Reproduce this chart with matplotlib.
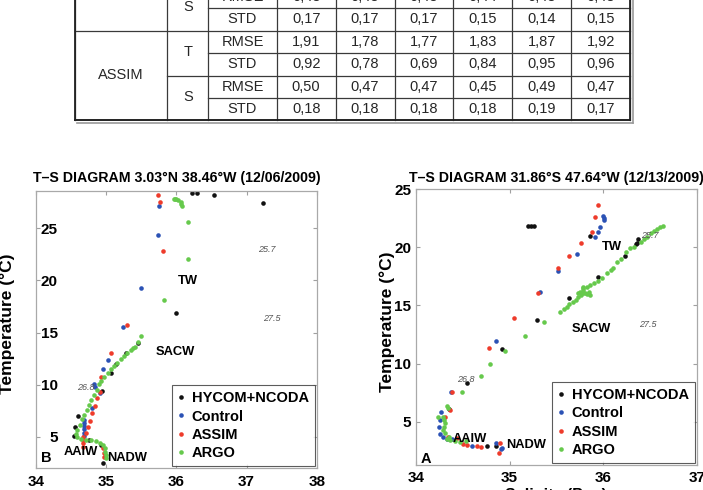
import numpy as np
import matplotlib
matplotlib.use('Agg')
import matplotlib.pyplot as plt
from matplotlib import font_manager

# ---- table values (decimal comma in the picture)
tab_var = ['S', 'S', 'T', 'T', 'S', 'S']
tab_stat = ['RMSE', 'STD', 'RMSE', 'STD', 'RMSE', 'STD']
tab_vals = [[0.43, 0.43, 0.43, 0.44, 0.43, 0.43],
            [0.17, 0.17, 0.17, 0.15, 0.14, 0.15],
            [1.91, 1.78, 1.77, 1.83, 1.87, 1.92],
            [0.92, 0.78, 0.69, 0.84, 0.95, 0.96],
            [0.50, 0.47, 0.47, 0.45, 0.49, 0.47],
            [0.18, 0.18, 0.18, 0.18, 0.19, 0.17]]
tab_group = 'ASSIM'

# ---- panel B (3.03N 38.46W)
hyc_b_s = [36.22, 36.29, 36.53, 37.24, 35.99, 35.46, 35.28, 35.14, 35.07, 34.94, 34.60, 34.56, 34.54, 34.76, 34.92, 34.95]
hyc_b_t = [28.36, 28.36, 28.20, 27.46, 16.84, 14.02, 13.00, 11.98, 11.12, 9.35, 6.99, 5.90, 5.07, 4.68, 4.23, 2.45]
ctl_b_s = [35.75, 35.74, 35.50, 35.24, 35.03, 34.96, 34.83, 34.84, 34.91, 34.80, 34.69, 34.69, 34.69, 34.69, 34.69, 34.69]
ctl_b_t = [27.17, 24.36, 19.24, 15.56, 12.36, 11.50, 10.06, 9.80, 9.16, 7.73, 6.60, 6.30, 6.00, 5.70, 5.40, 5.10]
asm_b_s = [35.74, 35.77, 35.81, 35.30, 35.07, 34.93, 34.91, 34.87, 34.84, 34.80, 34.77, 34.74, 34.71, 34.67, 34.67, 34.67, 34.67, 34.96, 34.97, 34.97]
asm_b_t = [28.20, 27.50, 22.85, 15.72, 13.00, 10.70, 9.32, 8.74, 7.94, 7.24, 6.54, 5.96, 5.32, 5.00, 4.68, 4.36, 4.04, 3.88, 3.40, 3.08]
argo_b_s = [35.96, 35.98, 36.00, 36.03, 36.06, 36.07, 36.08, 36.17, 36.16, 35.82, 35.50, 35.45, 35.41, 35.38,
            35.35, 35.30, 35.25, 35.21, 35.16, 35.11, 35.07, 35.02, 34.97, 34.93, 34.90, 34.87, 34.83, 34.79,
            34.76, 34.72, 34.69, 34.65, 34.62, 34.59, 34.57, 34.58, 34.64, 34.71, 34.78, 34.85, 34.91, 34.96,
            34.98, 34.99, 35.00, 35.00]
argo_b_t = [27.78, 27.80, 27.81, 27.72, 27.55, 27.33, 27.14, 25.64, 22.02, 18.12, 14.69, 14.05, 13.64, 13.50,
            13.32, 13.06, 12.75, 12.43, 12.10, 11.79, 11.47, 11.09, 10.70, 10.38, 10.06, 9.48, 9.00, 8.52,
            8.04, 7.56, 7.08, 6.67, 6.12, 5.64, 5.26, 4.94, 4.75, 4.68, 4.68, 4.62, 4.43, 4.20,
            3.89, 3.56, 3.24, 2.92]

# ---- panel A (31.86S 47.64W)
hyc_a_s = [35.20, 35.23, 35.26, 35.86, 36.23, 36.35, 36.36, 36.37, 35.95, 35.64, 35.29, 34.92, 34.55, 34.35, 34.76, 34.85]
hyc_a_t = [21.84, 21.84, 21.84, 20.98, 19.26, 20.26, 20.40, 20.70, 17.48, 15.67, 13.75, 11.26, 8.30, 6.09, 2.94, 2.94]
ctl_a_s = [36.00, 36.01, 36.01, 35.97, 35.94, 35.91, 35.72, 35.52, 35.32, 34.85, 34.37, 34.27, 34.26, 34.25,
           34.26, 34.29, 34.33, 34.38, 34.60, 34.86, 34.92, 34.91]
ctl_a_t = [22.70, 22.56, 22.36, 21.78, 21.35, 20.87, 19.43, 17.97, 16.19, 11.94, 7.53, 5.86, 5.15, 4.52,
           3.94, 3.66, 3.49, 3.47, 2.91, 3.19, 2.76, 2.62]
asm_a_s = [35.94, 35.91, 35.88, 35.76, 35.64, 35.52, 35.30, 35.05, 34.78, 34.38, 34.36, 34.31, 34.34, 34.44,
           34.50, 34.54, 34.65, 34.70, 34.90, 34.89]
asm_a_t = [23.65, 22.64, 21.35, 20.35, 19.26, 18.20, 16.10, 13.89, 11.32, 7.58, 6.01, 5.38, 3.71, 3.57,
           3.10, 3.00, 2.91, 2.85, 3.14, 2.28]
argo_a_s = [34.23, 34.29, 34.30, 34.31, 34.30, 34.29, 34.31, 34.33, 34.35, 34.36, 34.42, 34.47, 34.53, 34.33,
            34.34, 34.49, 34.69, 34.79, 34.95, 35.17, 35.37, 35.54, 35.58, 35.61, 35.64, 35.68, 35.71, 35.73,
            35.76, 35.75, 35.78, 35.79, 35.83, 35.86, 35.90, 35.94, 35.99, 36.04, 36.08, 36.11, 36.15, 36.19,
            36.24, 36.29, 36.33, 36.40, 36.44, 36.47, 36.51, 36.54, 36.58, 36.61, 36.64, 35.78, 35.81, 35.85,
            35.86, 35.83, 35.79, 35.73]
argo_a_t = [5.43, 5.43, 5.14, 4.86, 4.57, 4.28, 4.00, 3.48, 3.71, 3.42, 3.34, 3.28, 3.34, 6.35,
            6.15, 7.53, 8.93, 9.94, 11.11, 12.40, 13.55, 14.47, 14.70, 14.90, 15.13, 15.33, 15.47, 15.70,
            15.90, 16.19, 16.33, 16.48, 16.62, 16.76, 16.91, 17.11, 17.34, 17.77, 18.06, 18.20, 18.77, 18.98,
            19.63, 19.92, 20.06, 20.49, 20.70, 20.92, 21.21, 21.44, 21.61, 21.78, 21.84, 16.05, 16.10, 16.19,
            15.90, 16.00, 16.57, 16.05]

series_names = ['HYCOM+NCODA', 'Control', 'ASSIM', 'ARGO']
series_cols = ['#111111', '#2b52b5', '#ee3b2b', '#66c94c']

plt.rcParams['font.family'] = ['Liberation Sans', 'DejaVu Sans']

names = {f.name for f in font_manager.fontManager.ttflist}
if 'Liberation Sans Narrow' in names:
    tab_font, tab_size = ['Liberation Sans Narrow', 'DejaVu Sans'], 11.5
else:
    tab_font, tab_size = ['Liberation Sans', 'DejaVu Sans'], 10.5

W, H = 703, 490
fig = plt.figure(figsize=(W / 100, H / 100), dpi=100)

# ---------------- table (pixel coordinates)
tab = fig.add_axes([0, 0, 1, 1])
tab.set_xlim(0, W)
tab.set_ylim(H, 0)
tab.axis('off')
col_x = [75, 167.3, 208.3, 276.7, 335.6, 394.5, 453.4, 512.3, 571.2, 630]
row_y = [-14.1, 8.3, 30.7, 53.3, 76.0, 98.3, 120.5]
lc = '#3a3a3a'
for x in col_x:
    tab.plot([x, x], [-20, row_y[-1]], color=lc, lw=0.9, clip_on=False)
tab.plot([col_x[2], col_x[-1]], [row_y[1]] * 2, color=lc, lw=0.9)
tab.plot([col_x[0], col_x[-1]], [row_y[2]] * 2, color=lc, lw=0.9)
tab.plot([col_x[2], col_x[-1]], [row_y[3]] * 2, color=lc, lw=0.9)
tab.plot([col_x[1], col_x[-1]], [row_y[4]] * 2, color=lc, lw=0.9)
tab.plot([col_x[2], col_x[-1]], [row_y[5]] * 2, color=lc, lw=0.9)
tab.plot([col_x[0], col_x[-1]], [row_y[6]] * 2, color='#222222', lw=1.4)
# shadow of the frame
tab.plot([col_x[0] + 2, col_x[-1] + 2.5], [row_y[6] + 2.2] * 2, color='#9a9a9a', lw=1.2)
tab.plot([col_x[-1] + 2.5] * 2, [-20, row_y[6] + 2.2], color='#9a9a9a', lw=1.2)
tab.plot([col_x[0], col_x[0]], [-20, row_y[-1]], color='#222222', lw=1.3)
tab.plot([col_x[-1], col_x[-1]], [-20, row_y[-1]], color='#222222', lw=1.3)

tk = dict(family=tab_font, size=tab_size, color='#262626', ha='center', va='center')
for i in range(len(tab_stat)):
    yc = (row_y[i] + row_y[i + 1]) / 2 - 0.5
    tab.text((col_x[2] + col_x[3]) / 2, yc, tab_stat[i], **tk)
    for j, v in enumerate(tab_vals[i]):
        tab.text((col_x[3 + j] + col_x[4 + j]) / 2, yc, f'{v:.2f}'.replace('.', ','), **tk)
for i in range(0, len(tab_var), 2):
    tab.text((col_x[1] + col_x[2]) / 2, (row_y[i] + row_y[i + 2]) / 2 - 1.5, tab_var[i], **tk)
tab.text((col_x[0] + col_x[1]) / 2, (row_y[2] + row_y[6]) / 2 - 0.5, tab_group, **tk)


# ---------------- T-S panels
def ts_panel(rect, data, xlim, ylim, xticks, title, marks, letter, dens, title_pad):
    ax = fig.add_axes(rect)
    for (s, t), c, n in zip(data, series_cols, series_names):
        ax.plot(s, t, 'o', ms=3.3, mew=0, color=c, label=n, ls='none')
    ax.set_xlim(*xlim)
    ax.set_ylim(*ylim)
    ax.set_xticks(xticks)
    ax.set_yticks([5, 10, 15, 20, 25])
    for sp in ax.spines.values():
        sp.set_color('#a9a9a9')
        sp.set_linewidth(0.9)
    ax.tick_params(direction='in', length=3, width=0.8, color='#a0a0a0', top=True, right=True,
                   labelsize=11, pad=3.5)
    ax.tick_params(axis='x', pad=4.5)
    for lab in ax.get_xticklabels() + ax.get_yticklabels():
        lab.set_fontweight('bold')
    ax.set_title(title, fontsize=10.2, fontweight='bold', pad=title_pad)
    ax.set_ylabel('Temperature (°C)', fontsize=12.5, fontweight='bold')
    ax.yaxis.set_label_coords(-0.075, 0.52)
    ax.set_xlabel('Salinity (Psu)', fontsize=11.5, fontweight='bold', labelpad=2)
    for txt, s, t in marks:
        ax.text(s, t, txt, fontsize=9.3, fontweight='bold', ha='center', va='center')
    ax.text(letter[1], letter[2], letter[0], fontsize=10.5, fontweight='bold', ha='center', va='center')
    for txt, s, t in dens:
        ax.text(s, t, txt, fontsize=6.5, color='#555555', style='italic', ha='center', va='center')
    leg = ax.legend(loc='lower right', prop=dict(weight='bold', size=10.5), frameon=True, fancybox=False,
                    borderpad=0.4, handlelength=0.5, handletextpad=0.45, labelspacing=0.3,
                    borderaxespad=0.15, markerscale=1.0)
    leg.get_frame().set_edgecolor('#333333')
    leg.get_frame().set_linewidth(0.8)
    return ax


axb = ts_panel([36 / W, 1 - 468.3 / H, 280.7 / W, 277.6 / H],
               [(hyc_b_s, hyc_b_t), (ctl_b_s, ctl_b_t), (asm_b_s, asm_b_t), (argo_b_s, argo_b_t)],
               (34, 38), (1.97, 28.61), [34, 35, 36, 37, 38],
               'T\u2013S DIAGRAM 3.03°N 38.46°W (12/06/2009)',
               [('TW', 36.16, 19.9), ('SACW', 35.99, 13.1), ('AAIW', 34.64, 3.5), ('NADW', 35.30, 3.0)],
               ('B', 34.14, 2.95),
               [('25.7', 37.29, 23.0), ('27.5', 37.36, 16.3), ('26.8', 34.71, 9.7)], 6)
# y tick labels sit inside the frame in this panel
axb.tick_params(axis='y', pad=-15.8)

axa = ts_panel([416 / W, 1 - 465 / H, 280.7 / W, 275.7 / H],
               [(hyc_a_s, hyc_a_t), (ctl_a_s, ctl_a_t), (asm_a_s, asm_a_t), (argo_a_s, argo_a_t)],
               (34, 37), (1.27, 25), [34, 35, 36, 37],
               'T\u2013S DIAGRAM 31.86°S 47.64°W (12/13/2009)',
               [('TW', 36.09, 20.0), ('SACW', 35.87, 13.0), ('AAIW', 34.57, 3.5), ('NADW', 35.18, 2.95)],
               ('A', 34.11, 1.8),
               [('25.7', 36.50, 21.0), ('27.5', 36.48, 13.4), ('26.8', 34.53, 8.6)], 5)

fig.savefig('out.png', dpi=100)
